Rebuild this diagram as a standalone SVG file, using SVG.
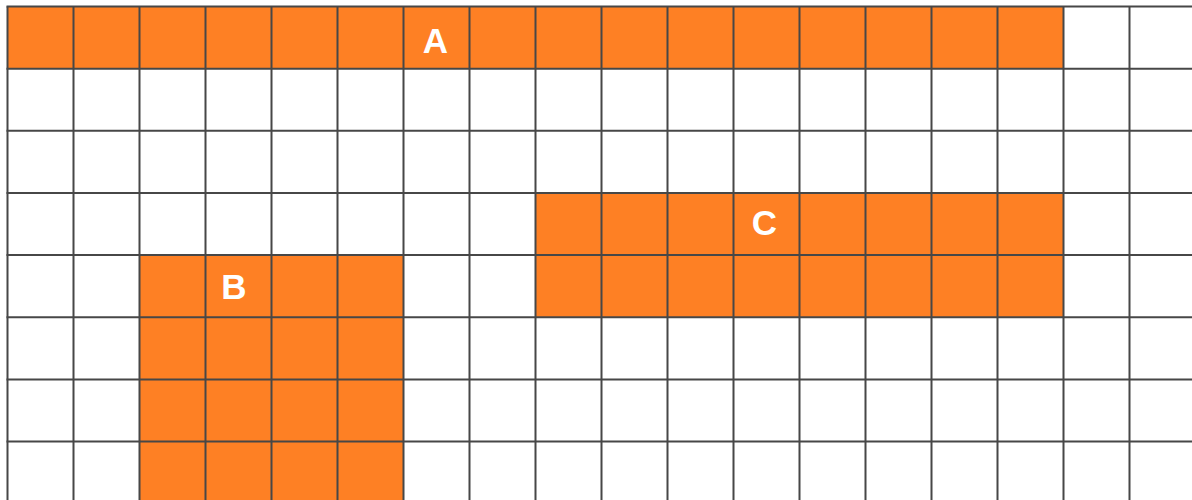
<svg xmlns="http://www.w3.org/2000/svg" width="1192" height="500" viewBox="0 0 1192 500">
  <style>
    .fill { fill: #fe8024; }
    .grid line { stroke: #474747; stroke-width: 2; }
    .lbl { fill: #ffffff; font-family: "Liberation Sans", Arial, sans-serif; font-weight: bold; font-size: 35px; text-anchor: middle; }
  </style>
  <rect x="0" y="0" width="1192" height="500" fill="#ffffff"/>
  <g id="region-A">
    <rect class="fill" x="7.5" y="6.5" width="1056" height="62.15"/>
  </g>
  <g id="region-C">
    <rect class="fill" x="535.5" y="192.95" width="528" height="124.3"/>
  </g>
  <g id="region-B">
    <rect class="fill" x="139.5" y="255.1" width="264" height="250"/>
  </g>
  <g class="grid" id="grid">
    <line x1="7.5" y1="6.5" x2="7.5" y2="500"/>
    <line x1="73.5" y1="6.5" x2="73.5" y2="500"/>
    <line x1="139.5" y1="6.5" x2="139.5" y2="500"/>
    <line x1="205.5" y1="6.5" x2="205.5" y2="500"/>
    <line x1="271.5" y1="6.5" x2="271.5" y2="500"/>
    <line x1="337.5" y1="6.5" x2="337.5" y2="500"/>
    <line x1="403.5" y1="6.5" x2="403.5" y2="500"/>
    <line x1="469.5" y1="6.5" x2="469.5" y2="500"/>
    <line x1="535.5" y1="6.5" x2="535.5" y2="500"/>
    <line x1="601.5" y1="6.5" x2="601.5" y2="500"/>
    <line x1="667.5" y1="6.5" x2="667.5" y2="500"/>
    <line x1="733.5" y1="6.5" x2="733.5" y2="500"/>
    <line x1="799.5" y1="6.5" x2="799.5" y2="500"/>
    <line x1="865.5" y1="6.5" x2="865.5" y2="500"/>
    <line x1="931.5" y1="6.5" x2="931.5" y2="500"/>
    <line x1="997.5" y1="6.5" x2="997.5" y2="500"/>
    <line x1="1063.5" y1="6.5" x2="1063.5" y2="500"/>
    <line x1="1129.5" y1="6.5" x2="1129.5" y2="500"/>
    <line x1="6.5" y1="6.5" x2="1192" y2="6.5"/>
    <line x1="6.5" y1="68.65" x2="1192" y2="68.65"/>
    <line x1="6.5" y1="130.8" x2="1192" y2="130.8"/>
    <line x1="6.5" y1="192.95" x2="1192" y2="192.95"/>
    <line x1="6.5" y1="255.1" x2="1192" y2="255.1"/>
    <line x1="6.5" y1="317.25" x2="1192" y2="317.25"/>
    <line x1="6.5" y1="379.4" x2="1192" y2="379.4"/>
    <line x1="6.5" y1="441.55" x2="1192" y2="441.55"/>
  </g>
  <g id="labels">
    <text class="lbl" x="435.5" y="53">A</text>
    <text class="lbl" x="234" y="299">B</text>
    <text class="lbl" x="764.5" y="235">C</text>
  </g>
</svg>
